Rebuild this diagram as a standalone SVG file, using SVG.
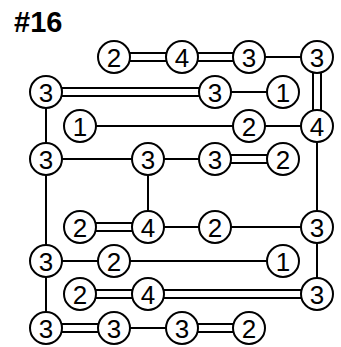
<svg xmlns="http://www.w3.org/2000/svg" width="341" height="347" viewBox="0 0 341 347">
<style>
.n circle{fill:#fff;stroke:#000;stroke-width:2}
.n text{font-family:"Liberation Sans",Arial,sans-serif;font-size:26px;text-anchor:middle;fill:#000}
.c line{stroke:#000;stroke-width:2}
.t{font-family:"Liberation Sans",Arial,sans-serif;font-size:29px;font-weight:bold;fill:#000}
</style>
<rect width="341" height="347" fill="#fff"/>
<text class="t" x="14" y="32">#16</text>
<g id="connectors" class="c">
<line x1="114" y1="53" x2="182" y2="53"/><line x1="114" y1="61" x2="182" y2="61"/>
<line x1="182" y1="53" x2="249" y2="53"/><line x1="182" y1="61" x2="249" y2="61"/>
<line x1="249" y1="57" x2="317" y2="57"/>
<line x1="313" y1="57" x2="313" y2="126"/><line x1="321" y1="57" x2="321" y2="126"/>
<line x1="46" y1="88" x2="215" y2="88"/><line x1="46" y1="96" x2="215" y2="96"/>
<line x1="215" y1="92" x2="283" y2="92"/>
<line x1="46" y1="92" x2="46" y2="159"/>
<line x1="80" y1="126" x2="249" y2="126"/>
<line x1="249" y1="126" x2="317" y2="126"/>
<line x1="46" y1="159" x2="148" y2="159"/>
<line x1="148" y1="159" x2="215" y2="159"/>
<line x1="215" y1="155" x2="283" y2="155"/><line x1="215" y1="163" x2="283" y2="163"/>
<line x1="148" y1="159" x2="148" y2="227"/>
<line x1="46" y1="159" x2="46" y2="261"/>
<line x1="317" y1="126" x2="317" y2="227"/>
<line x1="80" y1="223" x2="148" y2="223"/><line x1="80" y1="231" x2="148" y2="231"/>
<line x1="148" y1="227" x2="215" y2="227"/>
<line x1="215" y1="227" x2="317" y2="227"/>
<line x1="317" y1="227" x2="317" y2="294"/>
<line x1="46" y1="261" x2="114" y2="261"/>
<line x1="114" y1="261" x2="283" y2="261"/>
<line x1="46" y1="261" x2="46" y2="328"/>
<line x1="80" y1="290" x2="148" y2="290"/><line x1="80" y1="298" x2="148" y2="298"/>
<line x1="148" y1="290" x2="317" y2="290"/><line x1="148" y1="298" x2="317" y2="298"/>
<line x1="46" y1="324" x2="114" y2="324"/><line x1="46" y1="332" x2="114" y2="332"/>
<line x1="114" y1="328" x2="182" y2="328"/>
<line x1="182" y1="324" x2="249" y2="324"/><line x1="182" y1="332" x2="249" y2="332"/>
</g>
<g id="n-r0c2" class="n"><circle cx="114" cy="57" r="16"/><text x="114" y="66.5">2</text></g>
<g id="n-r0c4" class="n"><circle cx="182" cy="57" r="16"/><text x="182" y="66.5">4</text></g>
<g id="n-r0c6" class="n"><circle cx="249" cy="57" r="16"/><text x="249" y="66.5">3</text></g>
<g id="n-r0c8" class="n"><circle cx="317" cy="57" r="16"/><text x="317" y="66.5">3</text></g>
<g id="n-r1c0" class="n"><circle cx="46" cy="92" r="16"/><text x="46" y="101.5">3</text></g>
<g id="n-r1c5" class="n"><circle cx="215" cy="92" r="16"/><text x="215" y="101.5">3</text></g>
<g id="n-r1c7" class="n"><circle cx="283" cy="92" r="16"/><text x="283" y="101.5">1</text></g>
<g id="n-r2c1" class="n"><circle cx="80" cy="126" r="16"/><text x="80" y="135.5">1</text></g>
<g id="n-r2c6" class="n"><circle cx="249" cy="126" r="16"/><text x="249" y="135.5">2</text></g>
<g id="n-r2c8" class="n"><circle cx="317" cy="126" r="16"/><text x="317" y="135.5">4</text></g>
<g id="n-r3c0" class="n"><circle cx="46" cy="159" r="16"/><text x="46" y="168.5">3</text></g>
<g id="n-r3c3" class="n"><circle cx="148" cy="159" r="16"/><text x="148" y="168.5">3</text></g>
<g id="n-r3c5" class="n"><circle cx="215" cy="159" r="16"/><text x="215" y="168.5">3</text></g>
<g id="n-r3c7" class="n"><circle cx="283" cy="159" r="16"/><text x="283" y="168.5">2</text></g>
<g id="n-r5c1" class="n"><circle cx="80" cy="227" r="16"/><text x="80" y="236.5">2</text></g>
<g id="n-r5c3" class="n"><circle cx="148" cy="227" r="16"/><text x="148" y="236.5">4</text></g>
<g id="n-r5c5" class="n"><circle cx="215" cy="227" r="16"/><text x="215" y="236.5">2</text></g>
<g id="n-r5c8" class="n"><circle cx="317" cy="227" r="16"/><text x="317" y="236.5">3</text></g>
<g id="n-r6c0" class="n"><circle cx="46" cy="261" r="16"/><text x="46" y="270.5">3</text></g>
<g id="n-r6c2" class="n"><circle cx="114" cy="261" r="16"/><text x="114" y="270.5">2</text></g>
<g id="n-r6c7" class="n"><circle cx="283" cy="261" r="16"/><text x="283" y="270.5">1</text></g>
<g id="n-r7c1" class="n"><circle cx="80" cy="294" r="16"/><text x="80" y="303.5">2</text></g>
<g id="n-r7c3" class="n"><circle cx="148" cy="294" r="16"/><text x="148" y="303.5">4</text></g>
<g id="n-r7c8" class="n"><circle cx="317" cy="294" r="16"/><text x="317" y="303.5">3</text></g>
<g id="n-r8c0" class="n"><circle cx="46" cy="328" r="16"/><text x="46" y="337.5">3</text></g>
<g id="n-r8c2" class="n"><circle cx="114" cy="328" r="16"/><text x="114" y="337.5">3</text></g>
<g id="n-r8c4" class="n"><circle cx="182" cy="328" r="16"/><text x="182" y="337.5">3</text></g>
<g id="n-r8c6" class="n"><circle cx="249" cy="328" r="16"/><text x="249" y="337.5">2</text></g>
</svg>
